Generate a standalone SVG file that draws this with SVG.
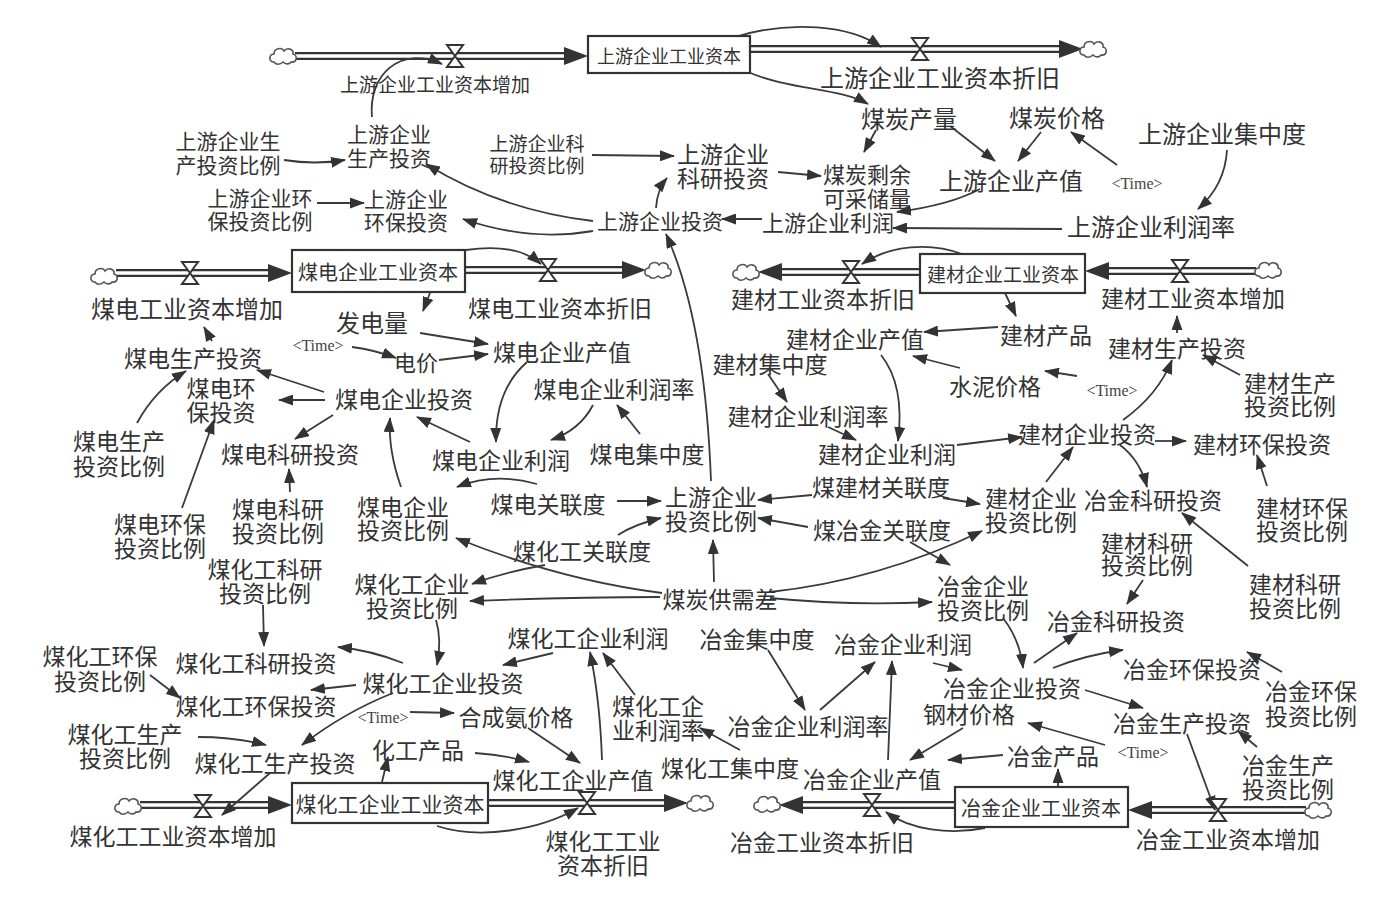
<svg xmlns="http://www.w3.org/2000/svg" width="1393" height="900" viewBox="0 0 1393 900">
<defs>
<style>
.t{font-family:"Noto Sans CJK SC",sans-serif;font-size:23px;fill:#333;text-anchor:middle;dominant-baseline:central}
.f18{font-size:18px}.f19{font-size:19px}.f20{font-size:20px}.f21{font-size:21px}.f22{font-size:22px}.f24{font-size:24px}
.tm{font-family:"Liberation Serif",serif;font-size:16px;fill:#444;text-anchor:middle;dominant-baseline:central}
.a{fill:none;stroke:#3a3a3a;stroke-width:1.8;marker-end:url(#ah)}
.po{fill:none;stroke:#333;stroke-width:8;marker-end:url(#pa)}
.pi{fill:none;stroke:#fff;stroke-width:3.5}
.box{fill:#fff;stroke:#333;stroke-width:2.2}
.cl{fill:#fff;stroke:#555;stroke-width:1.6}
.v{fill:#fff;stroke:#333;stroke-width:2}
</style>
<marker id="ah" markerUnits="userSpaceOnUse" markerWidth="15" markerHeight="11" refX="14" refY="5.5" orient="auto" viewBox="0 0 15 11"><path d="M0,0 L15,5.5 L0,11 z" fill="#333"/></marker>
<marker id="pa" markerUnits="userSpaceOnUse" markerWidth="24" markerHeight="18" refX="0" refY="9" orient="auto" viewBox="0 0 24 18"><path d="M0,0 L24,9 L0,18 z" fill="#333"/></marker>
<path id="cloud" d="M-9,6 C-15,6 -14,-2 -9,-2 C-9,-8 -1,-9 1,-5 C4,-9 11,-7 10,-2 C15,-1 14,7 8,6 C6,9 2,8 0,6 C-3,9 -7,9 -9,6 Z"/>
<path id="valve" d="M-8,-11 H8 L-8,11 H8 Z"/>
</defs>
<rect width="1393" height="900" fill="#fff"/>

<g id="pipes">
<path class="po" d="M295,56 H564"/><path class="pi" d="M295,56 H564"/>
<path class="po" d="M750,49 H1059"/><path class="pi" d="M750,49 H1059"/>
<path class="po" d="M116,273 H268"/><path class="pi" d="M116,273 H268"/>
<path class="po" d="M465,270 H622"/><path class="pi" d="M465,270 H622"/>
<path class="po" d="M1256,271 H1109"/><path class="pi" d="M1256,271 H1109"/>
<path class="po" d="M920,272 H782"/><path class="pi" d="M920,272 H782"/>
<path class="po" d="M1306,810 H1152"/><path class="pi" d="M1306,810 H1152"/>
<path class="po" d="M955,805 H803"/><path class="pi" d="M955,805 H803"/>
<path class="po" d="M140,805 H268"/><path class="pi" d="M140,805 H268"/>
<path class="po" d="M488,803 H664"/><path class="pi" d="M488,803 H664"/>
<use href="#cloud" class="cl" x="283" y="56"/>
<use href="#cloud" class="cl" x="1093" y="49"/>
<use href="#cloud" class="cl" x="104" y="276"/>
<use href="#cloud" class="cl" x="658" y="270"/>
<use href="#cloud" class="cl" x="1268" y="270"/>
<use href="#cloud" class="cl" x="746" y="272"/>
<use href="#cloud" class="cl" x="1318" y="810"/>
<use href="#cloud" class="cl" x="767" y="804"/>
<use href="#cloud" class="cl" x="128" y="806"/>
<use href="#cloud" class="cl" x="700" y="803"/>
</g>

<g id="connectors">
<path class="a" d="M372,117 C368,75 400,45 442,64"/>
<path class="a" d="M735,37 C790,20 850,25 881,47"/>
<path class="a" d="M748,72 C790,90 840,88 868,104"/>
<path class="a" d="M284,160 Q315,165 345,160"/>
<path class="a" d="M317,203 L364,203"/>
<path class="a" d="M592,155 L674,156"/>
<path class="a" d="M593,221 Q500,210 426,164"/>
<path class="a" d="M593,231 Q530,242 463,219"/>
<path class="a" d="M656,208 Q657,190 667,178"/>
<path class="a" d="M778,172 L821,176"/>
<path class="a" d="M876,130 L864,152"/>
<path class="a" d="M950,126 L995,161"/>
<path class="a" d="M1041,132 L1018,161"/>
<path class="a" d="M1117,165 L1071,132"/>
<path class="a" d="M1227,150 Q1225,185 1198,209"/>
<path class="a" d="M980,189 Q950,205 897,212"/>
<path class="a" d="M1062,229 L893,228"/>
<path class="a" d="M762,219 L722,219"/>
<path class="a" d="M711,481 Q705,320 666,234"/>

<path class="a" d="M466,250 C500,245 525,250 541,264"/>
<path class="a" d="M430,293 L423,311"/>
<path class="a" d="M420,333 L488,344"/>
<path class="a" d="M352,347 Q375,350 396,358"/>
<path class="a" d="M439,360 L488,354"/>
<path class="a" d="M527,362 Q495,390 496,442"/>
<path class="a" d="M593,405 Q580,430 551,440"/>
<path class="a" d="M640,434 L617,405"/>
<path class="a" d="M470,442 L417,417"/>
<path class="a" d="M401,487 Q388,450 390,418"/>
<path class="a" d="M537,484 Q495,472 457,487"/>
<path class="a" d="M617,501 L661,501"/>
<path class="a" d="M618,535 Q635,524 661,518"/>
<path class="a" d="M545,565 Q505,572 472,584"/>
<path class="a" d="M324,392 L257,370"/>
<path class="a" d="M325,400 L279,400"/>
<path class="a" d="M333,415 L295,439"/>
<path class="a" d="M212,341 L204,327"/>
<path class="a" d="M137,423 Q155,390 186,371"/>
<path class="a" d="M182,508 L214,420"/>
<path class="a" d="M290,492 L289,469"/>
<path class="a" d="M662,593 Q560,580 456,538"/>
<path class="a" d="M660,597 Q570,597 470,601"/>
<path class="a" d="M714,582 L713,540"/>
<path class="a" d="M770,592 Q880,580 982,531"/>
<path class="a" d="M910,542 L950,565"/>
<path class="a" d="M808,527 L758,518"/>
<path class="a" d="M812,495 L758,500"/>
<path class="a" d="M943,498 L980,504"/>
<path class="a" d="M770,598 Q850,606 932,602"/>

<path class="a" d="M962,254 C930,242 890,245 862,264"/>
<path class="a" d="M1005,293 L1016,316"/>
<path class="a" d="M998,327 L924,332"/>
<path class="a" d="M960,368 L913,356"/>
<path class="a" d="M1077,376 L1045,371"/>
<path class="a" d="M768,374 L787,402"/>
<path class="a" d="M828,427 L856,440"/>
<path class="a" d="M881,355 Q905,385 898,441"/>
<path class="a" d="M957,445 L1022,437"/>
<path class="a" d="M1123,420 Q1158,395 1172,360"/>
<path class="a" d="M1177,333 L1177,316"/>
<path class="a" d="M1240,375 L1203,355"/>
<path class="a" d="M1155,441 L1186,441"/>
<path class="a" d="M1267,486 L1257,455"/>
<path class="a" d="M1120,445 Q1140,460 1147,487"/>
<path class="a" d="M1046,482 L1073,447"/>
<path class="a" d="M1248,566 L1182,513"/>
<path class="a" d="M1143,580 L1127,604"/>

<path class="a" d="M768,650 L805,710"/>
<path class="a" d="M820,710 L875,662"/>
<path class="a" d="M888,760 L892,661"/>
<path class="a" d="M933,663 L962,670"/>
<path class="a" d="M1003,618 Q1020,640 1023,668"/>
<path class="a" d="M963,728 L910,760"/>
<path class="a" d="M1003,755 L948,760"/>
<path class="a" d="M1105,745 L1028,723"/>
<path class="a" d="M1034,663 L1077,633"/>
<path class="a" d="M1053,668 Q1085,655 1123,650"/>
<path class="a" d="M1282,672 L1247,652"/>
<path class="a" d="M1085,690 L1143,708"/>
<path class="a" d="M1257,747 L1238,731"/>
<path class="a" d="M1187,734 L1215,810"/>
<path class="a" d="M1058,787 L1058,769"/>
<path class="a" d="M985,828 C950,835 910,830 886,812"/>

<path class="a" d="M263,605 L264,646"/>
<path class="a" d="M150,675 L180,698"/>
<path class="a" d="M198,737 Q235,737 266,745"/>
<path class="a" d="M270,773 L222,815"/>
<path class="a" d="M403,663 Q370,650 338,647"/>
<path class="a" d="M356,685 L311,690"/>
<path class="a" d="M393,693 Q345,712 302,745"/>
<path class="a" d="M436,620 Q442,640 437,665"/>
<path class="a" d="M553,653 L503,665"/>
<path class="a" d="M410,712 L454,713"/>
<path class="a" d="M528,728 L580,763"/>
<path class="a" d="M475,753 Q505,755 529,762"/>
<path class="a" d="M602,760 Q600,700 590,652"/>
<path class="a" d="M635,695 L603,653"/>
<path class="a" d="M740,750 L700,728"/>
<path class="a" d="M382,782 L388,757"/>
<path class="a" d="M437,826 C480,840 540,830 578,808"/>
</g>

<g id="stock_up"><rect class="box" x="588" y="36" width="162" height="37"/><text class="t f18" x="669" y="55">上游企业工业资本</text></g>
<g id="flow_up_in"><use href="#valve" class="v" x="455" y="56"/><text class="t f19" x="435" y="83">上游企业工业资本增加</text></g>
<g id="flow_up_out"><use href="#valve" class="v" x="920" y="49"/><text class="t f24" x="940" y="76">上游企业工业资本折旧</text></g>
<g id="coal_output"><text class="t f24" x="909" y="117">煤炭产量</text></g>
<g id="coal_price"><text class="t f24" x="1057" y="116">煤炭价格</text></g>
<g id="up_conc"><text class="t f24" x="1222" y="132">上游企业集中度</text></g>
<g id="time1"><text class="tm" x="1137" y="183">&lt;Time&gt;</text></g>
<g id="coal_reserve"><text class="t f22" x="867" y="173">煤炭剩余<tspan x="867" y="197">可采储量</tspan></text></g>
<g id="up_value"><text class="t f24" x="1011" y="179">上游企业产值</text></g>
<g id="up_profit"><text class="t f22" x="828" y="221">上游企业利润</text></g>
<g id="up_rate"><text class="t f24" x="1151" y="225">上游企业利润率</text></g>
<g id="up_inv"><text class="t f21" x="660" y="220">上游企业投资</text></g>
<g id="up_rd"><text class="t" x="723" y="153">上游企业<tspan x="723" y="177">科研投资</tspan></text></g>
<g id="up_rd_ratio"><text class="t f19" x="537" y="142">上游企业科<tspan x="537" y="164">研投资比例</tspan></text></g>
<g id="up_prod"><text class="t f21" x="389" y="133">上游企业<tspan x="389" y="157">生产投资</tspan></text></g>
<g id="up_prod_ratio"><text class="t f21" x="228" y="140">上游企业生<tspan x="228" y="164">产投资比例</tspan></text></g>
<g id="up_env_ratio"><text class="t f21" x="260" y="197">上游企业环<tspan x="260" y="220">保投资比例</tspan></text></g>
<g id="up_env"><text class="t f21" x="406" y="198">上游企业<tspan x="406" y="221">环保投资</tspan></text></g>

<g id="stock_power"><rect class="box" x="292" y="250" width="173" height="42"/><text class="t f20" x="378" y="271">煤电企业工业资本</text></g>
<g id="flow_power_in"><use href="#valve" class="v" x="190" y="273"/><text class="t f24" x="187" y="307">煤电工业资本增加</text></g>
<g id="flow_power_out"><use href="#valve" class="v" x="548" y="270"/><text class="t" x="560" y="307">煤电工业资本折旧</text></g>
<g id="power_gen"><text class="t f24" x="372" y="321">发电量</text></g>
<g id="time2"><text class="tm" x="318" y="345">&lt;Time&gt;</text></g>
<g id="power_price"><text class="t f22" x="416" y="361">电价</text></g>
<g id="power_value"><text class="t" x="562" y="351">煤电企业产值</text></g>
<g id="power_rate"><text class="t" x="614" y="388">煤电企业利润率</text></g>
<g id="power_inv"><text class="t" x="404" y="398">煤电企业投资</text></g>
<g id="power_profit"><text class="t" x="501" y="459">煤电企业利润</text></g>
<g id="power_conc"><text class="t" x="647" y="453">煤电集中度</text></g>
<g id="power_link"><text class="t" x="548" y="503">煤电关联度</text></g>
<g id="power_inv_ratio"><text class="t" x="403" y="506">煤电企业<tspan x="403" y="529">投资比例</tspan></text></g>
<g id="chem_link"><text class="t" x="582" y="550">煤化工关联度</text></g>
<g id="chem_inv_ratio"><text class="t" x="412" y="583">煤化工企业<tspan x="412" y="607">投资比例</tspan></text></g>
<g id="up_inv_ratio"><text class="t" x="711" y="496">上游企业<tspan x="711" y="520">投资比例</tspan></text></g>
<g id="power_prod"><text class="t" x="193" y="357">煤电生产投资</text></g>
<g id="power_env"><text class="t" x="221" y="387">煤电环<tspan x="221" y="411">保投资</tspan></text></g>
<g id="power_rd"><text class="t" x="290" y="453">煤电科研投资</text></g>
<g id="power_prod_ratio"><text class="t" x="119" y="440">煤电生产<tspan x="119" y="465">投资比例</tspan></text></g>
<g id="power_env_ratio"><text class="t" x="160" y="523">煤电环保<tspan x="160" y="547">投资比例</tspan></text></g>
<g id="power_rd_ratio"><text class="t" x="278" y="508">煤电科研<tspan x="278" y="532">投资比例</tspan></text></g>
<g id="chem_rd_ratio"><text class="t" x="265" y="568">煤化工科研<tspan x="265" y="592">投资比例</tspan></text></g>

<g id="stock_build"><rect class="box" x="920" y="254" width="165" height="39"/><text class="t f19" x="1003" y="273">建材企业工业资本</text></g>
<g id="flow_build_out"><use href="#valve" class="v" x="851" y="272"/><text class="t" x="823" y="298">建材工业资本折旧</text></g>
<g id="flow_build_in"><use href="#valve" class="v" x="1180" y="271"/><text class="t" x="1193" y="297">建材工业资本增加</text></g>
<g id="build_out"><text class="t" x="1046" y="334">建材产品</text></g>
<g id="build_value"><text class="t" x="855" y="338">建材企业产值</text></g>
<g id="build_conc"><text class="t" x="770" y="363">建材集中度</text></g>
<g id="cement_price"><text class="t" x="995" y="385">水泥价格</text></g>
<g id="time3"><text class="tm" x="1112" y="390">&lt;Time&gt;</text></g>
<g id="build_rate"><text class="t" x="808" y="415">建材企业利润率</text></g>
<g id="build_profit"><text class="t" x="887" y="453">建材企业利润</text></g>
<g id="coal_build_link"><text class="t" x="881" y="486">煤建材关联度</text></g>
<g id="coal_met_link"><text class="t" x="882" y="529">煤冶金关联度</text></g>
<g id="build_inv_ratio"><text class="t" x="1031" y="497">建材企业<tspan x="1031" y="521">投资比例</tspan></text></g>
<g id="build_inv"><text class="t" x="1087" y="433">建材企业投资</text></g>
<g id="build_prod"><text class="t" x="1177" y="347">建材生产投资</text></g>
<g id="build_prod_ratio"><text class="t" x="1290" y="382">建材生产<tspan x="1290" y="405">投资比例</tspan></text></g>
<g id="build_env"><text class="t" x="1262" y="443">建材环保投资</text></g>
<g id="build_env_ratio"><text class="t" x="1302" y="507">建材环保<tspan x="1302" y="530">投资比例</tspan></text></g>
<g id="met_rd_a"><text class="t" x="1153" y="499">冶金科研投资</text></g>
<g id="build_rd_ratio_a"><text class="t" x="1147" y="542">建材科研<tspan x="1147" y="564">投资比例</tspan></text></g>
<g id="build_rd_ratio_b"><text class="t" x="1295" y="583">建材科研<tspan x="1295" y="607">投资比例</tspan></text></g>

<g id="coal_gap"><text class="t" x="720" y="598">煤炭供需差</text></g>
<g id="met_inv_ratio"><text class="t" x="983" y="585">冶金企业<tspan x="983" y="609">投资比例</tspan></text></g>
<g id="met_rd_b"><text class="t" x="1116" y="620">冶金科研投资</text></g>
<g id="met_conc"><text class="t" x="757" y="638">冶金集中度</text></g>
<g id="met_profit"><text class="t" x="903" y="643">冶金企业利润</text></g>
<g id="met_rate"><text class="t" x="808" y="725">冶金企业利润率</text></g>
<g id="met_inv"><text class="t" x="1012" y="687">冶金企业投资</text></g>
<g id="steel_price"><text class="t" x="969" y="713">钢材价格</text></g>
<g id="met_out"><text class="t" x="1053" y="755">冶金产品</text></g>
<g id="time4"><text class="tm" x="1143" y="752">&lt;Time&gt;</text></g>
<g id="met_env"><text class="t" x="1192" y="668">冶金环保投资</text></g>
<g id="met_env_ratio"><text class="t" x="1311" y="690">冶金环保<tspan x="1311" y="715">投资比例</tspan></text></g>
<g id="met_prod"><text class="t" x="1182" y="722">冶金生产投资</text></g>
<g id="met_prod_ratio"><text class="t" x="1288" y="764">冶金生产<tspan x="1288" y="788">投资比例</tspan></text></g>
<g id="met_value"><text class="t" x="872" y="778">冶金企业产值</text></g>
<g id="stock_met"><rect class="box" x="955" y="787" width="173" height="40"/><text class="t f20" x="1041" y="807">冶金企业工业资本</text></g>
<g id="flow_met_in"><use href="#valve" class="v" x="1218" y="810"/><text class="t" x="1228" y="838">冶金工业资本增加</text></g>
<g id="flow_met_out"><use href="#valve" class="v" x="872" y="805"/><text class="t" x="822" y="841">冶金工业资本折旧</text></g>

<g id="chem_rd"><text class="t" x="256" y="662">煤化工科研投资</text></g>
<g id="chem_env_ratio"><text class="t" x="100" y="655">煤化工环保<tspan x="100" y="680">投资比例</tspan></text></g>
<g id="chem_env"><text class="t" x="256" y="705">煤化工环保投资</text></g>
<g id="chem_prod_ratio"><text class="t" x="125" y="733">煤化工生产<tspan x="125" y="757">投资比例</tspan></text></g>
<g id="chem_prod"><text class="t" x="275" y="762">煤化工生产投资</text></g>
<g id="chem_inv"><text class="t" x="443" y="682">煤化工企业投资</text></g>
<g id="chem_profit"><text class="t" x="588" y="637">煤化工企业利润</text></g>
<g id="time5"><text class="tm" x="383" y="717">&lt;Time&gt;</text></g>
<g id="ammonia_price"><text class="t" x="516" y="716">合成氨价格</text></g>
<g id="chem_out"><text class="t" x="418" y="749">化工产品</text></g>
<g id="chem_value"><text class="t" x="573" y="779">煤化工企业产值</text></g>
<g id="chem_rate"><text class="t" x="658" y="705">煤化工企<tspan x="658" y="729">业利润率</tspan></text></g>
<g id="chem_conc"><text class="t" x="730" y="767">煤化工集中度</text></g>
<g id="stock_chem"><rect class="box" x="292" y="783" width="196" height="40"/><text class="t f21" x="390" y="803">煤化工企业工业资本</text></g>
<g id="flow_chem_in"><use href="#valve" class="v" x="203" y="806"/><text class="t" x="173" y="835">煤化工工业资本增加</text></g>
<g id="flow_chem_out"><use href="#valve" class="v" x="587" y="803"/><text class="t" x="603" y="840">煤化工工业<tspan x="603" y="864">资本折旧</tspan></text></g>
</svg>
